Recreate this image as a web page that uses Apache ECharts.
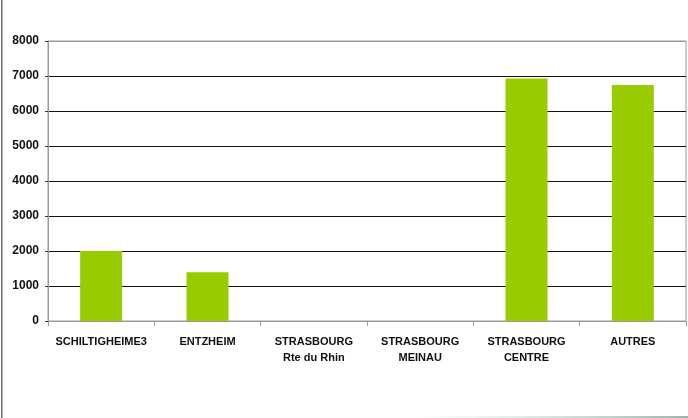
<!DOCTYPE html>
<html>
<head>
<meta charset="utf-8">
<script src="https://cdn.jsdelivr.net/npm/echarts@6/dist/echarts.min.js"></script>
<style>
  html, body { margin: 0; padding: 0; background: #fff; }
  #chart { width: 688px; height: 418px; }
</style>
</head>
<body>
<div id="chart"></div>
<script>
// catégories et valeurs
var categories = ['SCHILTIGHEIME3', 'ENTZHEIM', 'STRASBOURG\nRte du Rhin', 'STRASBOURG\nMEINAU', 'STRASBOURG\nCENTRE', 'AUTRES'];
var values = [2000, 1390, 0, 0, 6930, 6740];
var yTicks = [0, 1000, 2000, 3000, 4000, 5000, 6000, 7000, 8000];

var font = '"Liberation Sans Narrow", "Liberation Sans", Arial, sans-serif';

var myChart = echarts.init(document.getElementById('chart'));
var option = {
    animation: false,
    grid: {
        show: true,
        left: 48,
        right: 2,
        top: 41,
        bottom: 97,
        borderColor: '#9a9a9a',
        borderWidth: 1
    },
    xAxis: {
        type: 'category',
        data: categories,
        axisLine: { lineStyle: { color: '#9a9a9a' } },
        axisTick: { show: true, length: 5, lineStyle: { color: '#9a9a9a' } },
        axisLabel: {
            color: '#111',
            fontFamily: font,
            fontWeight: 'bold',
            fontSize: 11,
            lineHeight: 16,
            margin: 13,
            interval: 0
        }
    },
    yAxis: {
        type: 'value',
        min: yTicks[0],
        max: yTicks[yTicks.length - 1],
        interval: 1000,
        axisLine: { show: true, lineStyle: { color: '#9a9a9a' } },
        axisTick: { show: true, length: 3, lineStyle: { color: '#333' } },
        axisLabel: {
            color: '#111',
            fontFamily: font,
            fontWeight: 'bold',
            fontSize: 12,
            margin: 9,
            formatter: function (v) { return String(v); }
        },
        splitLine: {
            lineStyle: {
                // première et dernière lignes = bord gris du cadre
                color: ['#9a9a9a', '#111', '#111', '#111', '#111', '#111', '#111', '#111', '#9a9a9a'],
                width: 1
            }
        }
    },
    series: [{
        type: 'bar',
        data: values,
        barWidth: 42,
        itemStyle: {
            color: '#99CC00'
        }
    }],
    graphic: [
        {
            type: 'rect',
            left: 1,
            top: 0,
            shape: { width: 1.5, height: 418 },
            style: { fill: '#6f6f6f' }
        },
        {
            type: 'rect',
            left: 410,
            top: 416,
            shape: { width: 278, height: 2 },
            style: {
                fill: new echarts.graphic.LinearGradient(0, 0, 1, 0, [
                    { offset: 0, color: 'rgba(200,215,210,0)' },
                    { offset: 1, color: '#9db5ad' }
                ])
            }
        }
    ]
};
myChart.setOption(option);
</script>
</body>
</html>
